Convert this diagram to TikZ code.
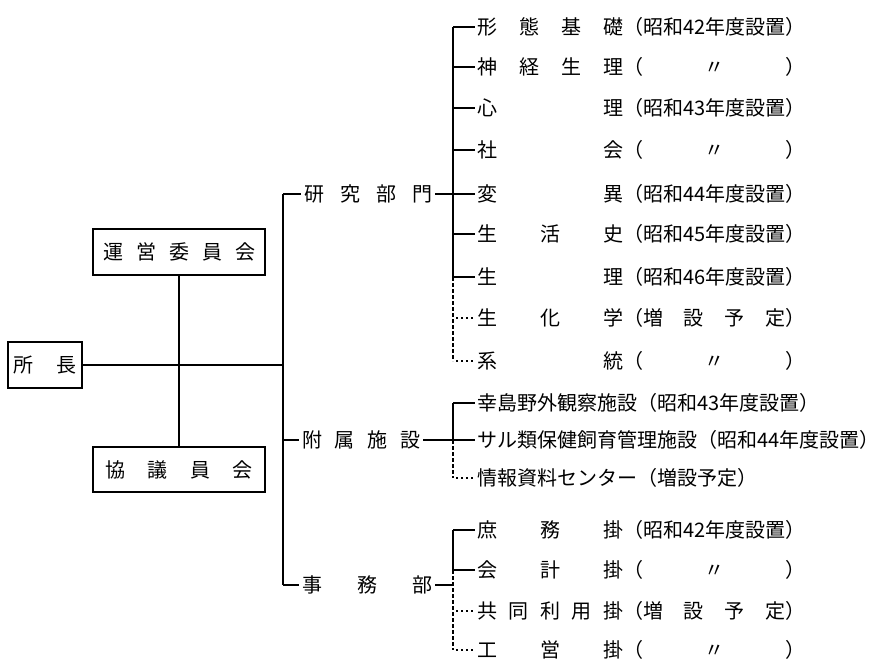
\documentclass[tikz,border=0pt]{standalone}
\usepackage{fontspec}
\setmainfont{Noto Sans CJK JP}
\newlength\parw
\setlength\parw{182pt}
\newcommand\nm[1]{\hbox to 146pt{#1}}
\newcommand\pf[1]{\hbox to \parw{#1}}
\tikzset{
  ln/.style={line width=1.3pt},
  trk/.style={line width=1.8pt},
  dotl/.style={line width=1.6pt, dash pattern=on 1.6pt off 3.4pt},
  dbr/.style={line width=1.5pt, dash pattern=on 4pt off 2pt},
  bx/.style={draw, line width=1.3pt, inner sep=0pt},
  itm/.style={anchor=west, inner sep=0pt},
  lab/.style={anchor=west, inner sep=0pt},
}
\begin{document}
\begin{tikzpicture}[x=1pt,y=-1pt,
  every node/.style={font=\fontsize{20pt}{24pt}\selectfont}]
\useasboundingbox (0,0) rectangle (891,660);
\fill[white] (0,0) rectangle (891,660);

% boxes
\node[bx, minimum width=74pt, minimum height=46pt] (shocho) at (45,365) {\hbox to 63pt{所\hfill 長}};
\node[bx, minimum width=172pt, minimum height=46pt] (unei) at (179,252) {\hbox to 152pt{運\hfill 営\hfill 委\hfill 員\hfill 会}};
\node[bx, minimum width=172pt, minimum height=45pt] (kyogi) at (179,469.5) {\hbox to 147pt{協\hfill 議\hfill 員\hfill 会}};

\coordinate (tr) at (283,0);
\coordinate (kb) at (453,0);

% main labels
\node[lab] (ken) at (304,194) {\hbox to 128pt{研\hfill 究\hfill 部\hfill 門}};
\node[lab] (fuz) at (302,440) {\hbox to 118pt{附\hfill 属\hfill 施\hfill 設}};
\node[lab] (jim) at (302,585) {\hbox to 130pt{事\hfill 務\hfill 部}};

% research items
\node[itm] (r1) at (477,27) {\nm{形\hfill 態\hfill 基\hfill 礎}（昭和42年度設置）};
\node[itm] (r2) at (477,67) {\nm{神\hfill 経\hfill 生\hfill 理}\pf{（\hfill 〃\hfill ）}};
\node[itm] (r3) at (477,108) {\nm{心\hfill 理}（昭和43年度設置）};
\node[itm] (r4) at (477,150) {\nm{社\hfill 会}\pf{（\hfill 〃\hfill ）}};
\node[itm] (r5) at (477,194) {\nm{変\hfill 異}（昭和44年度設置）};
\node[itm] (r6) at (477,234) {\nm{生\hfill 活\hfill 史}（昭和45年度設置）};
\node[itm] (r7) at (477,277) {\nm{生\hfill 理}（昭和46年度設置）};
\node[itm] (r8) at (477,318) {\nm{生\hfill 化\hfill 学}\pf{（増\hfill 設\hfill 予\hfill 定）}};
\node[itm] (r9) at (477,361) {\nm{系\hfill 統}\pf{（\hfill 〃\hfill ）}};

% facilities
\node[itm] (f1) at (477,403) {幸島野外観察施設（昭和43年度設置）};
\node[itm] (f2) at (477,440) {サル類保健飼育管理施設（昭和44年度設置）};
\node[itm] (f3) at (477,478) {情報資料センター（増設予定）};

% office
\node[itm] (j1) at (477,530) {\nm{庶\hfill 務\hfill 掛}（昭和42年度設置）};
\node[itm] (j2) at (477,570) {\nm{会\hfill 計\hfill 掛}\pf{（\hfill 〃\hfill ）}};
\node[itm] (j3) at (477,611) {\nm{共\hfill 同\hfill 利\hfill 用\hfill 掛}\pf{（増\hfill 設\hfill 予\hfill 定）}};
\node[itm] (j4) at (477,650) {\nm{工\hfill 営\hfill 掛}\pf{（\hfill 〃\hfill ）}};

% left connections
\draw[ln] (unei.south) -- (kyogi.north);
\draw[ln] (shocho.east) -- (shocho.east -| tr);
\draw[trk] (ken.west -| tr) -- (jim.west -| tr);

% main leaders
\foreach \n in {ken,fuz,jim}{
  \draw[ln] (\n.west -| tr) -- ([xshift=-3pt]\n.west);
  \draw[ln] ([xshift=3pt]\n.east) -- (\n.east -| kb);
}

% brackets
\draw[trk] (r1.west -| kb) -- (r7.west -| kb);
\draw[dbr] (r7.west -| kb) -- (r9.west -| kb);
\draw[trk] (f1.west -| kb) -- (f2.west -| kb);
\draw[dbr] (f2.west -| kb) -- (f3.west -| kb);
\draw[trk] (j1.west -| kb) -- (j2.west -| kb);
\draw[dbr] (j2.west -| kb) -- (j4.west -| kb);

% item leaders
\foreach \n in {r1,r2,r3,r4,r5,r6,r7,f1,f2,j1,j2}{
  \draw[ln] (\n.west -| kb) -- ([xshift=-2pt]\n.west);
}
\foreach \n in {r8,r9,f3,j3,j4}{
  \draw[dotl] ([xshift=3pt]\n.west -| kb) -- ([xshift=-4pt]\n.west);
}
\end{tikzpicture}
\end{document}
